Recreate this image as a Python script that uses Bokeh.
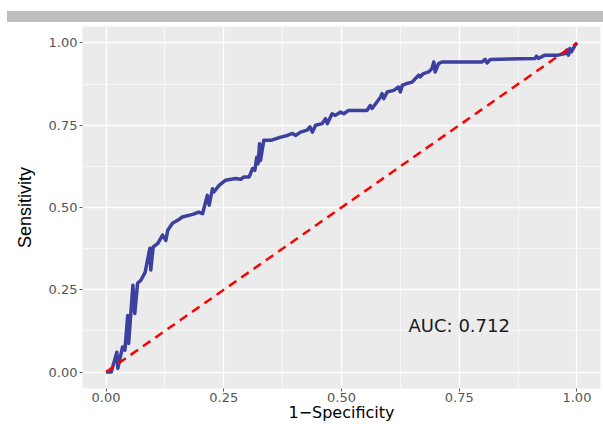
from bokeh.plotting import figure
from bokeh.models import Range1d, FixedTicker, Div
from bokeh.layouts import column
from bokeh.embed import file_html
from bokeh.resources import INLINE
from bokeh.core.properties import value

# ROC curve (1 - specificity, sensitivity)
fpr = [0.000, 0.011, 0.023, 0.025, 0.035, 0.040, 0.046, 0.048, 0.057, 0.061,
       0.067, 0.074, 0.083, 0.093, 0.095, 0.100, 0.110, 0.120, 0.127, 0.131,
       0.141, 0.152, 0.162, 0.184, 0.197, 0.205, 0.215, 0.219, 0.226, 0.229,
       0.240, 0.254, 0.275, 0.286, 0.293, 0.304, 0.311, 0.316, 0.320, 0.323,
       0.326, 0.328, 0.335, 0.350, 0.371, 0.385, 0.396, 0.403, 0.413, 0.427,
       0.433, 0.438, 0.445, 0.459, 0.466, 0.470, 0.480, 0.487, 0.498, 0.505,
       0.515, 0.554, 0.561, 0.565, 0.583, 0.586, 0.590, 0.597, 0.611, 0.621,
       0.625, 0.629, 0.639, 0.650, 0.657, 0.664, 0.667, 0.674, 0.685, 0.692,
       0.696, 0.699, 0.706, 0.713, 0.798, 0.805, 0.809, 0.816, 0.911, 0.914,
       0.918, 0.932, 0.960, 0.975, 0.978, 0.982, 0.985, 0.988, 0.996, 1.000]
tpr = [0.000, 0.000, 0.060, 0.011, 0.076, 0.066, 0.172, 0.087, 0.264, 0.178,
       0.270, 0.279, 0.303, 0.376, 0.310, 0.380, 0.391, 0.416, 0.400, 0.431,
       0.452, 0.461, 0.471, 0.479, 0.486, 0.481, 0.537, 0.507, 0.557, 0.547,
       0.567, 0.583, 0.588, 0.586, 0.593, 0.593, 0.618, 0.613, 0.653, 0.633,
       0.694, 0.643, 0.704, 0.704, 0.714, 0.719, 0.725, 0.719, 0.729, 0.735,
       0.745, 0.729, 0.750, 0.755, 0.770, 0.755, 0.785, 0.780, 0.790, 0.785,
       0.795, 0.795, 0.810, 0.801, 0.836, 0.846, 0.831, 0.851, 0.856, 0.866,
       0.851, 0.871, 0.877, 0.881, 0.892, 0.902, 0.897, 0.907, 0.912, 0.922,
       0.942, 0.912, 0.937, 0.942, 0.942, 0.950, 0.939, 0.950, 0.953, 0.960,
       0.953, 0.963, 0.963, 0.968, 0.978, 0.963, 0.983, 0.973, 0.993, 1.000]

# chance diagonal
diag_x = [0.0, 1.0]
diag_y = [0.0, 1.0]

# axis ticks
tick_values = [0.0, 0.25, 0.5, 0.75, 1.0]
tick_labels = ["0.00", "0.25", "0.50", "0.75", "1.00"]
minor_values = [0.125, 0.375, 0.625, 0.875]

# annotation
auc_x = [0.75]
auc_y = [0.14]
auc_text = ["AUC: 0.712"]

# thin grey strip at the top
bar = Div(text="", width=596, height=11, margin=(11, 0, 0, 7),
          styles={"background-color": "#BEBEBE"})

p = figure(width=603, height=402,
           x_range=Range1d(-0.05, 1.05), y_range=Range1d(-0.05, 1.05),
           output_backend="svg", toolbar_location=None,
           min_border_left=82, min_border_right=3, min_border_top=4, min_border_bottom=36)
p.background_fill_color = "#EBEBEB"
p.border_fill_color = "white"
p.outline_line_color = None

p.line(fpr, tpr, line_color="#3D409F", line_width=3.5, line_join="round")
p.line(diag_x, diag_y, line_color="#FF0000", line_width=2.5, line_dash="9 6")
p.text(x=auc_x, y=auc_y, text=auc_text, text_font=value("DejaVu Sans"),
       text_font_size="18px", text_align="center", text_baseline="middle",
       text_color="#1A1A1A")

for ax in (p.xaxis[0], p.yaxis[0]):
    ax.ticker = FixedTicker(ticks=tick_values, minor_ticks=minor_values)
    ax.major_label_overrides = dict(zip(tick_values, tick_labels))
    ax.axis_line_color = None
    ax.major_tick_line_color = "#555555"
    ax.major_tick_out = 3
    ax.major_tick_in = 0
    ax.minor_tick_out = 0
    ax.minor_tick_in = 0
    ax.minor_tick_line_color = None
    ax.major_label_text_font = "DejaVu Sans"
    ax.major_label_text_font_size = "13px"
    ax.major_label_text_color = "#555555"
    ax.major_label_standoff = 2
    ax.axis_label_text_font_style = "normal"
    ax.axis_label_text_color = "#000000"

p.xaxis.major_label_standoff = 1
p.xaxis.axis_label = "1\u2212Specificity"
p.xaxis.axis_label_text_font = "DejaVu Sans"
p.xaxis.axis_label_text_font_size = "16px"
p.xaxis.axis_label_standoff = -2

p.yaxis.axis_label = "Sensitivity"
p.yaxis.axis_label_text_font = "Liberation Sans"
p.yaxis.axis_label_text_font_size = "18px"
p.yaxis.axis_label_standoff = 11

p.grid.grid_line_color = "white"
p.grid.grid_line_width = 1.3
p.grid.minor_grid_line_color = "white"
p.grid.minor_grid_line_width = 0.6

layout = column(bar, p)
open("out.html", "w").write(file_html(layout, INLINE))
